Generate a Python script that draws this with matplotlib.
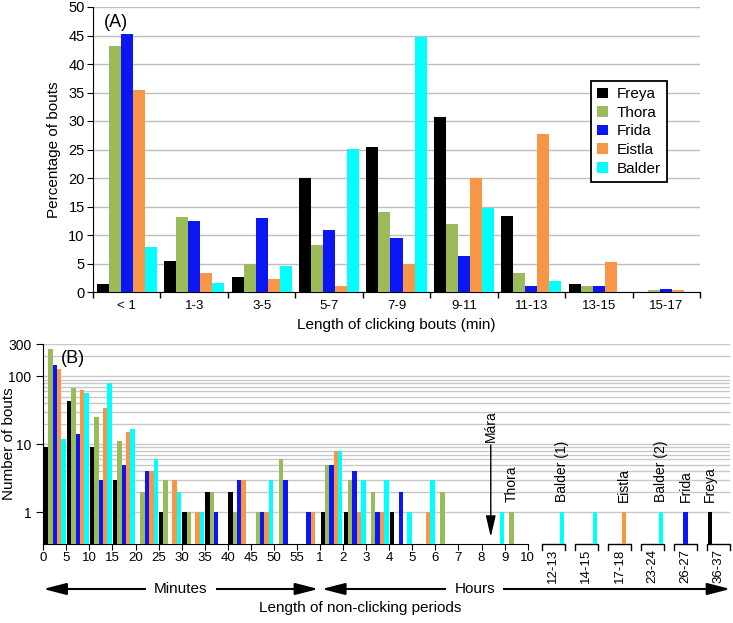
import numpy as np
import matplotlib
matplotlib.use('Agg')
import matplotlib.pyplot as plt

plt.rcParams['font.family'] = ['Liberation Sans', 'DejaVu Sans']

names = ['Freya', 'Thora', 'Frida', 'Eistla', 'Balder']
colors = ['#000000', '#9BBB59', '#0B16F2', '#F79646', '#00FFFF']

# (A) percentage of bouts vs length of clicking bouts (min)
bout_bins = ['< 1', '1-3', '3-5', '5-7', '7-9', '9-11', '11-13', '13-15', '15-17']
pct_freya = [1.4, 5.4, 2.7, 20.0, 25.4, 30.7, 13.3, 1.4, 0]
pct_thora = [43.2, 13.2, 5.0, 8.3, 14.1, 11.9, 3.4, 1.05, 0.3]
pct_frida = [45.3, 12.5, 13.0, 10.9, 9.4, 6.3, 1.1, 1.05, 0.6]
pct_eistla = [35.5, 3.4, 2.2, 1.1, 4.9, 20.0, 27.7, 5.2, 0.4]
pct_balder = [7.9, 1.5, 4.5, 25.1, 44.7, 14.8, 2.0, 0, 0]

# (B) number of non-clicking periods; 12 five-minute bins then 9 one-hour bins
gap_ticks = ['0', '5', '10', '15', '20', '25', '30', '35', '40', '45', '50', '55',
             '1', '2', '3', '4', '5', '6', '7', '8', '9', '10']
n_freya = [9, 44, 9, 3, 0, 1, 1, 2, 2, 0, 0, 0, 1, 1, 0, 1, 0, 0, 0, 0, 0]
n_thora = [250, 67, 25, 11, 2, 3, 1, 2, 1, 1, 6, 0, 5, 3, 2, 0, 0, 2, 0, 0, 1]
n_frida = [145, 14, 3, 5, 4, 0, 0, 1, 3, 1, 3, 1, 5, 4, 1, 2, 0, 0, 0, 0, 0]
n_eistla = [130, 62, 34, 15, 4, 3, 1, 0, 3, 1, 0, 1, 8, 1, 1, 0, 1, 0, 0, 0, 0]
n_balder = [12, 57, 81, 17, 6, 2, 1, 0, 0, 3, 0, 0, 8, 3, 3, 1, 3, 0, 0, 1, 0]

# single very long gaps (hours)
long_bins = ['12-13', '14-15', '17-18', '23-24', '26-27', '36-37']
long_who = [4, 4, 3, 4, 2, 0]
long_count = [1, 1, 1, 1, 1, 1]
long_text = ['Balder (1)', '', 'Eistla', 'Balder (2)', 'Frida', 'Freya']
mara_hours = 8.4

fig = plt.figure(figsize=(7.33, 6.23), dpi=100)

# ---------------- panel A
axA = fig.add_axes([93 / 733, 1 - 292 / 623, 607 / 733, 285 / 623])
series_a = [pct_freya, pct_thora, pct_frida, pct_eistla, pct_balder]
x = np.arange(len(bout_bins))
w = 0.178
for i, vals in enumerate(series_a):
    axA.bar(x + 0.5 + (i - 2) * w, vals, w, color=colors[i], label=names[i], zorder=3)

axA.set_xlim(0, len(bout_bins))
axA.set_ylim(0, 50)
axA.set_yticks(np.arange(0, 51, 5))
axA.grid(axis='y', color='#BEBEBE', lw=1)
axA.set_axisbelow(True)
for s in ['top', 'right']:
    axA.spines[s].set_visible(False)
axA.set_xticks(np.arange(len(bout_bins) + 1))
axA.set_xticklabels([])
axA.set_xticks(x + 0.5, minor=True)
axA.set_xticklabels(bout_bins, minor=True, fontsize=9.5)
axA.tick_params(axis='x', which='major', length=4, width=1)
axA.tick_params(axis='x', which='minor', length=0, pad=6)
axA.tick_params(axis='y', length=4, pad=2, labelsize=10.5)
axA.text(0.5, -0.116, 'Length of clicking bouts (min)', transform=axA.transAxes,
         ha='center', va='center', fontsize=11)
axA.text(-0.064, 0.5, 'Percentage of bouts', transform=axA.transAxes,
         ha='center', va='center', rotation=90, fontsize=11)
axA.text(0.038, 0.947, '(A)', transform=axA.transAxes, ha='center', va='center', fontsize=13)
leg = axA.legend(loc='upper left', bbox_to_anchor=(0.820, 0.740), borderaxespad=0,
                 fancybox=False, edgecolor='black', framealpha=1, fontsize=11,
                 handlelength=0.7, handleheight=0.7, handletextpad=0.6, labelspacing=0.3)
leg.get_frame().set_linewidth(1.3)

# ---------------- panel B
axB = fig.add_axes([43.3 / 733, 1 - 544 / 623, 687 / 733, 200 / 623])
axB.set_yscale('log')
series_b = [n_freya, n_thora, n_frida, n_eistla, n_balder]
pos = np.arange(len(n_freya))
long_pos = 21.61 + np.arange(len(long_bins)) * 1.435
bw = 0.19
for i, vals in enumerate(series_b):
    vals = np.array(vals, dtype=float)
    m = vals > 0
    axB.bar(pos[m] + 0.02 + i * bw, vals[m], bw, align='edge', color=colors[i], zorder=3)
for p, who, cnt in zip(long_pos, long_who, long_count):
    axB.bar(p + 0.02 + who * bw, cnt, bw, align='edge', color=colors[who], zorder=3)

axB.set_xlim(0, long_pos[-1] + 1)
axB.set_ylim(0.34, 300)
axB.set_yticks([1, 10, 100, 300])
axB.set_yticklabels(['1', '10', '100', '300'])
grid_vals = [v * 10 ** k for k in range(3) for v in range(1, 10)]
grid_vals = [g for g in grid_vals if g <= 300] + [300]
axB.set_yticks(grid_vals, minor=True)
axB.yaxis.set_minor_formatter(plt.NullFormatter())
axB.grid(axis='y', which='both', color='#C8C8C8', lw=1)
axB.set_axisbelow(True)
axB.tick_params(axis='y', which='major', length=5, labelsize=10)
axB.tick_params(axis='y', which='minor', length=0)
for s in ['top', 'right']:
    axB.spines[s].set_visible(False)
axB.spines['bottom'].set_bounds(0, 21)
axB.set_xticks(np.arange(22))
axB.set_xticklabels(gap_ticks, fontsize=9.5)
axB.tick_params(axis='x', length=4, pad=2)

trans = axB.get_xaxis_transform()
for p, lab in zip(long_pos, long_bins):
    axB.plot([p, p, p + 1, p + 1], [-0.03, 0, 0, -0.03], color='black', lw=1,
             transform=trans, clip_on=False)
    axB.text(p + 0.5, -0.025, lab, transform=trans, rotation=90, ha='center', va='top',
             fontsize=9.5)

# names above the long single gaps
for p, who, lab in zip(long_pos, long_who, long_text):
    if lab:
        axB.annotate(lab, xy=(p + 0.02 + who * bw + bw / 2, 1), xytext=(0, 7),
                     textcoords='offset points', rotation=90, ha='center', va='bottom',
                     fontsize=10)
axB.annotate('Thora', xy=(20 + 0.02 + 1 * bw + bw / 2, 1), xytext=(0, 7),
             textcoords='offset points', rotation=90, ha='center', va='bottom', fontsize=10)

mx = 12 + (mara_hours - 1)
axB.annotate('Mára', xy=(mx, 0.43), xytext=(mx, 10.7), rotation=90, ha='center', va='bottom',
             fontsize=10,
             arrowprops=dict(arrowstyle='-|>,head_length=1.3,head_width=0.3',
                             mutation_scale=10, color='black', lw=1, shrinkA=0, shrinkB=0))

# Minutes / Hours arrows
ya = -0.225
arrow_kw = dict(arrowstyle='<|-|>,head_length=1.4,head_width=0.36', mutation_scale=10,
                color='black', lw=1.5, shrinkA=0, shrinkB=0)
axB.annotate('', xy=(0, ya), xytext=(11.92, ya), xycoords=trans, textcoords=trans,
             arrowprops=arrow_kw)
axB.annotate('', xy=(12.08, ya), xytext=(long_pos[-1] + 1, ya), xycoords=trans,
             textcoords=trans, arrowprops=arrow_kw)
axB.text(5.96, ya, 'Minutes', transform=trans, ha='center', va='center', fontsize=11,
         bbox=dict(facecolor='white', edgecolor='none', pad=6))
axB.text(18.7, ya, 'Hours', transform=trans, ha='center', va='center', fontsize=11,
         bbox=dict(facecolor='white', edgecolor='none', pad=6))
axB.text(0.461, -0.32, 'Length of non-clicking periods', transform=axB.transAxes,
         ha='center', va='center', fontsize=11)
axB.text(-0.05, 0.5, 'Number of bouts', transform=axB.transAxes, ha='center', va='center',
         rotation=90, fontsize=11)
axB.text(0.043, 0.93, '(B)', transform=axB.transAxes, ha='center', va='center', fontsize=13)

fig.savefig('out.png', dpi=100)
